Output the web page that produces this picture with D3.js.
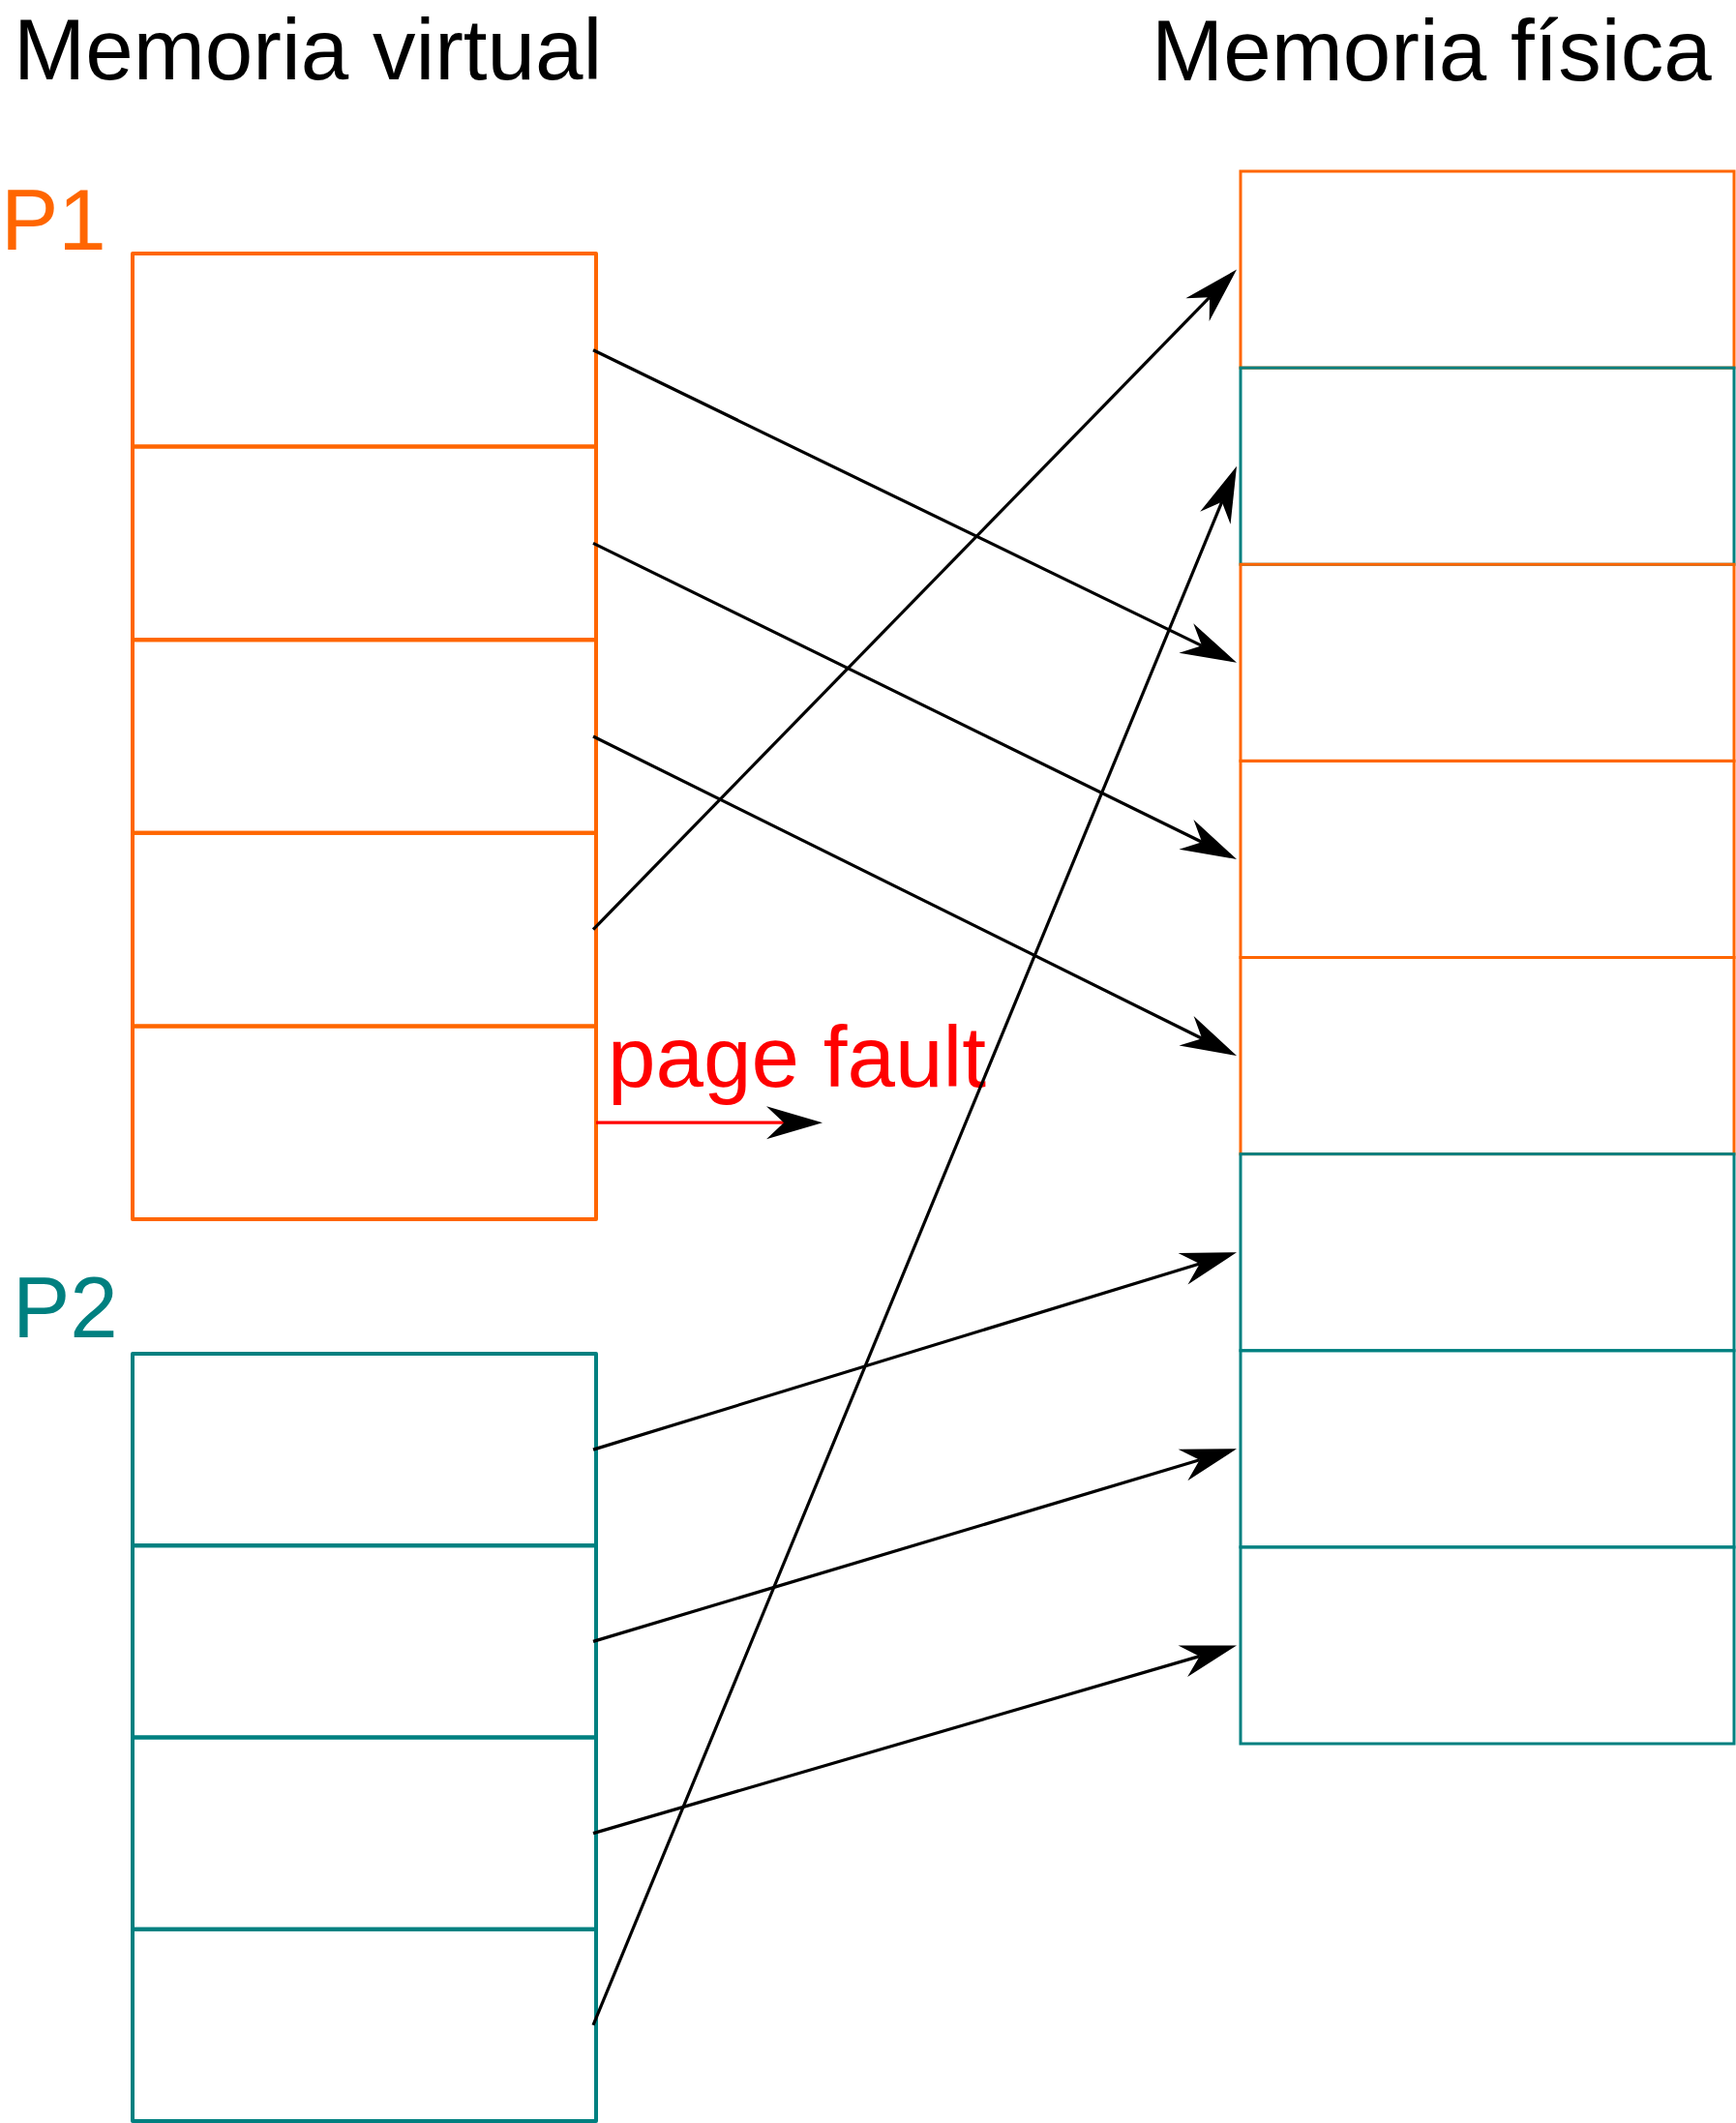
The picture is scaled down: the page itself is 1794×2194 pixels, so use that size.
<!DOCTYPE html>
<html>
<head>
<meta charset="utf-8">
<script src="https://cdn.jsdelivr.net/npm/d3@7"></script>
<style>
  body { margin: 0; background: #fff; }
  svg { display: block; }
</style>
</head>
<body>
<div id="chart"></div>
<script>
// --- data ---
const titles = ['Memoria virtual', 'Memoria física'];
const processes = ['P1', 'P2'];
const processColors = { P1: '#ff6600', P2: '#008080' };
// frame index each virtual page maps to (null = not loaded)
const p1PageFrames = [2, 3, 4, 0, null];
const p2PageFrames = [5, 6, 7, 1];
const frameOwners = ['P1', 'P2', 'P1', 'P1', 'P1', 'P2', 'P2', 'P2'];
const faultLabel = 'page fault';

const width = 1794, height = 2194;
const svg = d3.select('#chart').append('svg')
    .attr('width', width).attr('height', height);

// --- layout ---
const xVirt = d3.scaleLinear().domain([0, 1]).range([137, 616]);
const xPhys = d3.scaleLinear().domain([0, 1]).range([1282, 1792]);
const yPage = {
    P1: d3.scaleLinear().domain([0, p1PageFrames.length]).range([262, 1260]),
    P2: d3.scaleLinear().domain([0, p2PageFrames.length]).range([1399, 2192])
};
const yFrame = d3.scaleLinear().domain([0, frameOwners.length]).range([177, 1802]);
const font = '"Liberation Sans", Arial, sans-serif';
const fontSize = 89;

// titles (kept just inside the top edge)
svg.append('text').attr('x', 14).attr('y', 82).text(titles[0]);
svg.append('text').attr('x', 1190).attr('y', 83).text(titles[1]);
svg.selectAll('text').attr('font-family', font).attr('font-size', fontSize).attr('fill', '#000');

// process labels
const labelPos = { P1: [1, 258], P2: [13, 1382] };
processes.forEach(p => {
    svg.append('text')
        .attr('x', labelPos[p][0]).attr('y', labelPos[p][1])
        .attr('font-family', font).attr('font-size', fontSize)
        .attr('fill', processColors[p])
        .text(p);
});

// virtual pages
const pageTables = { P1: p1PageFrames, P2: p2PageFrames };
processes.forEach(p => {
    svg.append('g').selectAll('rect')
        .data(pageTables[p])
        .join('rect')
        .attr('x', xVirt(0))
        .attr('y', (d, i) => yPage[p](i))
        .attr('width', xVirt(1) - xVirt(0))
        .attr('height', (d, i) => yPage[p](i + 1) - yPage[p](i))
        .attr('fill', 'none')
        .attr('stroke', processColors[p])
        .attr('stroke-width', 4)
        .attr('stroke-linejoin', 'round');
});

// physical frames
svg.append('g').selectAll('rect')
    .data(frameOwners)
    .join('rect')
    .attr('x', xPhys(0))
    .attr('y', (d, i) => yFrame(i))
    .attr('width', xPhys(1) - xPhys(0))
    .attr('height', (d, i) => yFrame(i + 1) - yFrame(i))
    .attr('fill', 'none')
    .attr('stroke', d => processColors[d])
    .attr('stroke-width', 3);

// arrows
const headLen = 58, headHalf = 17, headNotch = 40;
function arrow(g, x1, y1, x2, y2, lineColor) {
    const dx = x2 - x1, dy = y2 - y1;
    const len = Math.hypot(dx, dy);
    const ux = dx / len, uy = dy / len;
    g.append('line')
        .attr('x1', x1).attr('y1', y1)
        .attr('x2', x2 - ux * headNotch).attr('y2', y2 - uy * headNotch)
        .attr('stroke', lineColor).attr('stroke-width', 3.2);
    const angle = Math.atan2(dy, dx) * 180 / Math.PI;
    g.append('path')
        .attr('d', `M0,0L${-headLen},${-headHalf}L${-headNotch},0L${-headLen},${headHalf}Z`)
        .attr('transform', `translate(${x2},${y2}) rotate(${angle})`)
        .attr('fill', '#000');
}

const arrows = svg.append('g');
processes.forEach(p => {
    pageTables[p].forEach((frame, i) => {
        const y1 = yPage[p](i + 0.5);
        if (frame === null) {
            arrow(arrows, xVirt(1), y1, 850, y1, '#ff0000');
            arrows.append('text')
                .attr('x', 628).attr('y', y1 - 37)
                .attr('font-family', font).attr('font-size', fontSize)
                .attr('fill', '#ff0000')
                .text(faultLabel);
        } else {
            arrow(arrows, xVirt(1) - 3, y1, xPhys(0) - 4, yFrame(frame + 0.5), '#000');
        }
    });
});
</script>
</body>
</html>
